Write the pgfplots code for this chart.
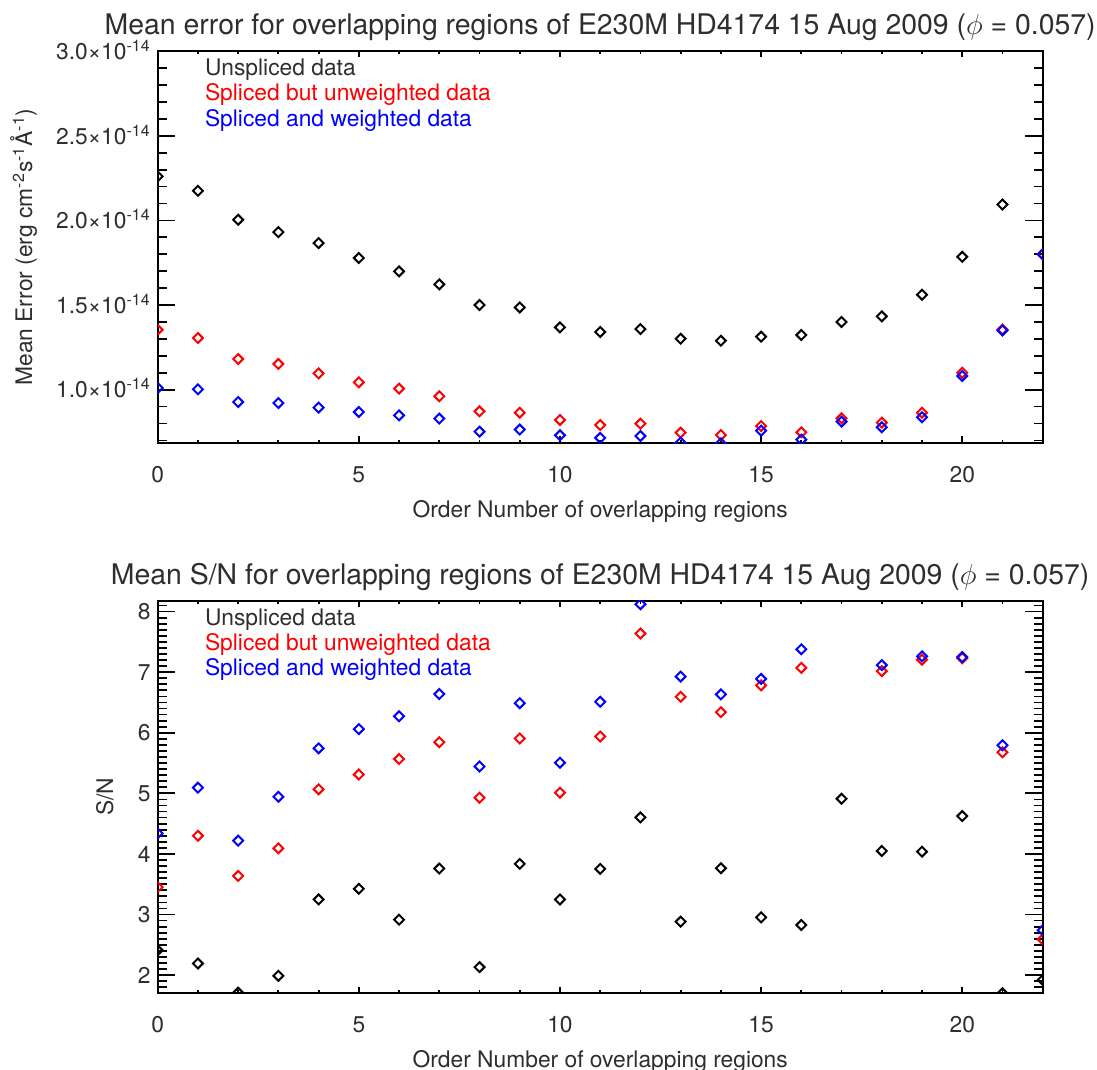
\documentclass[border=0pt]{standalone}
\usepackage{pgfplots}
\pgfplotsset{compat=1.18}
\usepackage{fontspec}
\setmainfont{TeX Gyre Heros}
\definecolor{txt}{gray}{0.18}
\newcommand{\lf}{\fontsize{11.4}{13.5}\selectfont}
\pgfplotsset{
  idl/.style={
    scale only axis, width=442.5pt, height=196.3pt,
    xmin=0, xmax=22,
    xtick={0,5,10,15,20}, xticklabels={0,5,10,15,20},
    minor xtick={0,1,...,22},
    tick align=inside, tick pos=both,
    axis line style={line width=1pt},
    every tick/.style={black, line width=0.9pt},
    xtick style={/pgfplots/major tick length=3.4pt, /pgfplots/minor tick length=1.7pt},
    ytick style={/pgfplots/major tick length=8.7pt, /pgfplots/minor tick length=4.5pt},
    tick label style={font=\lf, text=txt},
    xticklabel style={yshift=-8pt},
    yticklabel style={anchor=base east, yshift=-4.1pt},
    label style={font=\lf, text=txt},
    xlabel={Order Number of overlapping regions},
    xlabel style={at={(axis description cs:0.5,-0.188)}, anchor=base},
    every axis title shift=0pt,
    title style={at={(axis description cs:0.5,1.041)}, anchor=base, font=\fontsize{14.2}{17}\selectfont, text=txt},
    clip marker paths=true,
    scaled y ticks=false,
  },
  dia/.style={only marks, mark=square, mark size=1.75pt,
    mark options={rotate=45, line width=1pt, solid, fill=none}},
}
\begin{document}
\begin{tikzpicture}
\begin{axis}[idl, at={(78.85pt,313.35pt)}, anchor=south west,
  ymin=0.683e-14, ymax=3.003e-14,
  ytick={1e-14,1.5e-14,2e-14,2.5e-14,3e-14},
  yticklabels={1.0×10\textsuperscript{-14},1.5×10\textsuperscript{-14},2.0×10\textsuperscript{-14},2.5×10\textsuperscript{-14},3.0×10\textsuperscript{-14}},
  minor ytick={0.7e-14,0.8e-14,0.9e-14,1.1e-14,1.2e-14,1.3e-14,1.4e-14,1.6e-14,1.7e-14,1.8e-14,1.9e-14,2.1e-14,2.2e-14,2.3e-14,2.4e-14,2.6e-14,2.7e-14,2.8e-14,2.9e-14},
  ylabel={Mean Error (erg cm\textsuperscript{-2}s\textsuperscript{-1}Å\textsuperscript{-1})},
  ylabel style={at={(axis description cs:-0.142,0.5)}, anchor=base},
  title={Mean error for overlapping regions of E230M HD4174 15 Aug 2009 ($\phi$ = 0.057)},
]
\addplot[dia, black] coordinates {
(0,2.26e-14)(1,2.175e-14)(2,2.004e-14)(3,1.931e-14)(4,1.866e-14)(5,1.778e-14)
(6,1.699e-14)(7,1.622e-14)(8,1.50e-14)(9,1.486e-14)(10,1.368e-14)(11,1.341e-14)
(12,1.358e-14)(13,1.301e-14)(14,1.289e-14)(15,1.313e-14)(16,1.323e-14)(17,1.40e-14)
(18,1.433e-14)(19,1.561e-14)(20,1.785e-14)(21,2.094e-14)};
\addplot[dia, red] coordinates {
(0,1.354e-14)(1,1.305e-14)(2,1.181e-14)(3,1.152e-14)(4,1.096e-14)(5,1.043e-14)
(6,1.006e-14)(7,0.961e-14)(8,0.872e-14)(9,0.864e-14)(10,0.821e-14)(11,0.791e-14)
(12,0.799e-14)(13,0.746e-14)(14,0.732e-14)(15,0.785e-14)(16,0.748e-14)(17,0.831e-14)
(18,0.805e-14)(19,0.864e-14)(20,1.10e-14)(21,1.356e-14)(22,1.80e-14)};
\addplot[dia, blue] coordinates {
(0,1.01e-14)(1,1.002e-14)(2,0.927e-14)(3,0.921e-14)(4,0.894e-14)(5,0.868e-14)
(6,0.848e-14)(7,0.829e-14)(8,0.752e-14)(9,0.764e-14)(10,0.730e-14)(11,0.715e-14)
(12,0.726e-14)(13,0.687e-14)(14,0.683e-14)(15,0.758e-14)(16,0.705e-14)(17,0.811e-14)
(18,0.778e-14)(19,0.837e-14)(20,1.081e-14)(21,1.350e-14)(22,1.80e-14)};
\node[anchor=base west, font=\lf, text=txt] at (rel axis cs:0.0455,0.938) {Unspliced data};
\node[anchor=base west, font=\lf, text=red] at (rel axis cs:0.0455,0.872) {Spliced but unweighted data};
\node[anchor=base west, font=\lf, text=blue] at (rel axis cs:0.0455,0.806) {Spliced and weighted data};
\end{axis}
\begin{axis}[idl, at={(78.85pt,38.35pt)}, anchor=south west,
  ymin=1.70, ymax=8.18,
  ytick={2,3,4,5,6,7,8}, yticklabels={2,3,4,5,6,7,8},
  minor ytick={1.7,1.8,...,8.15},
  ylabel={S/N},
  ylabel style={at={(axis description cs:-0.0505,0.5)}, anchor=base},
  title={Mean S/N for overlapping regions of E230M HD4174 15 Aug 2009 ($\phi$ = 0.057)},
]
\addplot[dia, black] coordinates {
(0,2.41)(1,2.192)(2,1.71)(3,1.989)(4,3.249)(5,3.425)(6,2.915)(7,3.759)(8,2.132)
(9,3.836)(10,3.249)(11,3.753)(12,4.603)(13,2.882)(14,3.764)(15,2.953)(16,2.827)
(17,4.911)(18,4.049)(19,4.038)(20,4.625)(21,1.70)(22,1.92)};
\addplot[dia, red] coordinates {
(0,3.452)(1,4.30)(2,3.638)(3,4.093)(4,5.067)(5,5.311)(6,5.567)(7,5.844)(8,4.928)
(9,5.906)(10,5.011)(11,5.939)(12,7.639)(13,6.594)(14,6.339)(15,6.783)(16,7.072)
(17,8.22)(18,7.017)(19,7.206)(20,7.23)(21,5.678)(22,2.59)};
\addplot[dia, blue] coordinates {
(0,4.34)(1,5.094)(2,4.219)(3,4.944)(4,5.744)(5,6.061)(6,6.272)(7,6.639)(8,5.444)
(9,6.489)(10,5.506)(11,6.511)(12,8.122)(13,6.928)(14,6.633)(15,6.889)(16,7.378)
(17,8.22)(18,7.117)(19,7.261)(20,7.25)(21,5.794)(22,2.74)};
\node[anchor=base west, font=\lf, text=txt] at (rel axis cs:0.0455,0.936) {Unspliced data};
\node[anchor=base west, font=\lf, text=red] at (rel axis cs:0.0455,0.873) {Spliced but unweighted data};
\node[anchor=base west, font=\lf, text=blue] at (rel axis cs:0.0455,0.809) {Spliced and weighted data};
\end{axis}
\pgfresetboundingbox
\useasboundingbox (0,0) rectangle (548.5pt,535pt);
\end{tikzpicture}
\end{document}
